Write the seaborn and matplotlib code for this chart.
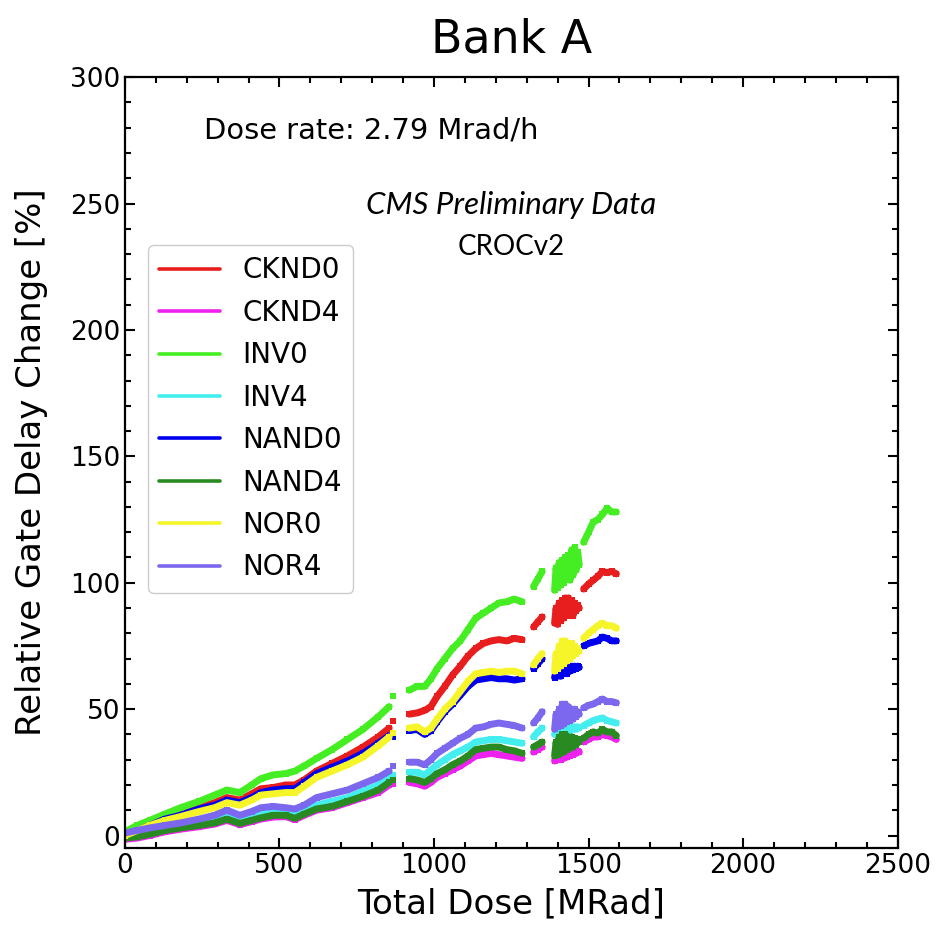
import numpy as np
import pandas as pd
import matplotlib
matplotlib.use("Agg")
import matplotlib.pyplot as plt
from matplotlib.lines import Line2D
from matplotlib.ticker import MultipleLocator
import seaborn as sns

# ---------------- data ----------------
DOSE = [0, 40, 80, 130, 180, 240, 290, 330, 372, 410, 440, 480, 520, 550, 580, 620, 670, 720, 770, 820, 855,
        868,
        920, 945, 970, 990, 1010, 1035, 1060, 1085, 1110, 1135, 1160, 1185, 1210, 1235, 1260, 1285,
        1322, 1336, 1350,
        1390, 1395, 1400, 1405, 1410, 1415, 1420, 1425, 1430, 1435, 1440, 1445, 1450, 1455, 1460, 1465, 1470,
        1484, 1500, 1515, 1530, 1545, 1560, 1575, 1590]
SEGMENT_LENGTHS = [21, 1, 16, 3, 17, 8]

CKND0 = [0.5, 2.5, 4.5, 7, 9, 11, 13, 15, 14, 16.5, 18.5, 19, 20, 20, 22, 25.5, 28.5, 31.5, 35, 39, 42.5,
         45.5,
         48, 48.5, 49.5, 51, 55, 59, 63.5, 67, 71, 74, 76, 77, 77.5, 77, 78, 77.5,
         82.5, 84.5, 86.5,
         84, 90, 83.5, 92, 85, 93, 86, 94, 87, 94, 88, 93, 87, 92, 89, 91, 90,
         97.5, 99.5, 101, 102.5, 104.5, 104, 104.5, 103.5]
CKND4 = [-1.5, -1, 0, 1.5, 2.5, 3.5, 4.5, 6, 4.3, 5.5, 6.5, 7.3, 7.5, 6.3, 8, 10, 11, 13, 15, 17, 20,
         20.5,
         21, 20.5, 19.5, 21, 23, 24.5, 26, 27.5, 29.5, 31.5, 32, 32.5, 32, 31.5, 31, 30.5,
         33, 34, 35,
         29.5, 32, 30, 33, 30, 33.5, 30.5, 34, 31, 34, 31.5, 34, 32, 34, 32.5, 33.5, 33,
         37, 38, 39, 39, 40, 39.5, 39, 38]
INV0 = [1.5, 4, 6, 8.5, 11, 13.5, 16, 18, 17, 20, 22.5, 24, 24.5, 25.5, 27.5, 30.5, 34, 38, 42, 47, 51,
        55,
        57.5, 59, 59, 62, 66, 70, 74, 77, 81.5, 86, 88, 90, 92, 92.5, 93.5, 92.5,
        98.5, 101.5, 104.5,
        97, 106, 98, 108, 99, 109, 100, 110, 102, 111, 101, 113, 103, 114, 105, 112, 107,
        116, 120, 124, 125, 127, 129.5, 128, 128]
INV4 = [0, 0.5, 1.5, 3, 4.5, 5.5, 6.5, 8, 6, 7.5, 8.5, 9.5, 9.5, 8.3, 10, 12, 13.5, 15, 17.5, 20, 23,
        24,
        25, 25, 24, 26, 28, 30, 32, 33.5, 35, 37, 37.5, 38, 38, 37.5, 37, 36.5,
        39, 41, 42.5,
        40, 42, 40, 42.5, 40.5, 43, 41, 43, 41, 43, 41.5, 43, 42, 43, 42, 43, 42.5,
        43.5, 44.5, 45.5, 46, 46.5, 45.5, 45, 44.5]
NAND0 = [-0.5, 2, 4, 6.5, 8, 10.5, 12, 14, 13, 15, 17, 18, 18.5, 18.5, 21, 24.5, 27, 29.5, 32.5, 36.5, 39.5,
         39,
         41.5, 42, 40, 41.5, 45, 49, 52, 55.5, 59, 61.5, 62, 62.5, 62, 62, 61.5, 62,
         66, 68, 70,
         62.5, 65, 63, 66, 63, 66.5, 64, 67, 64, 67, 65, 67, 65.5, 67, 66, 67, 66.5,
         75, 76, 76.5, 77, 78.5, 78, 77, 77]
NAND4 = [-1, -0.5, 0.5, 2, 3, 4, 5, 6.5, 4.8, 6, 7, 8, 8, 6.8, 8.5, 10.5, 11.5, 13.5, 15.5, 18, 21,
         22,
         22.5, 22, 21, 22.5, 24.5, 26, 28, 29.5, 31.5, 34, 34.5, 35, 35, 34, 33.5, 32.5,
         35, 36, 37,
         31.5, 37, 32, 39, 32.5, 40, 33, 40, 34, 39, 34.5, 39, 35, 38.5, 36, 38, 37,
         38.5, 40, 41, 40.5, 42, 41, 41, 39.5]
NOR0 = [0, 2, 4, 6, 7.5, 9.5, 11, 13, 12, 14, 16, 16.5, 17, 17, 19.5, 23, 25.5, 28, 31, 35.5, 39,
        40.5,
        42.5, 43, 41, 42.5, 46, 50, 53, 57, 61, 64, 64.5, 65, 64.5, 65, 65, 64,
        67.5, 70, 72,
        65, 72, 66, 75, 67, 77, 68, 77, 69, 76, 70, 76, 71, 75, 72, 74, 73,
        78, 80, 81.5, 83, 84, 83, 83, 82]
NOR4 = [1, 2, 3, 4, 5, 6.5, 8, 10, 8, 9.5, 11, 11.5, 11, 10.5, 12, 15, 16.5, 18, 20.5, 23, 25.5,
        27.5,
        29, 29, 28, 30, 32.5, 34.5, 36.5, 38.5, 40, 42.5, 43, 44, 44.5, 44, 43.5, 42.5,
        44.5, 46.5, 49,
        42, 48, 43, 50, 43.5, 52, 44, 52, 45, 51, 45.5, 50, 46, 50, 47, 49, 48,
        50.5, 51.5, 52, 53, 54, 53, 53, 52.5]

SERIES_NAMES = ["CKND0", "CKND4", "INV0", "INV4", "NAND0", "NAND4", "NOR0", "NOR4"]
SERIES_VALUES = [CKND0, CKND4, INV0, INV4, NAND0, NAND4, NOR0, NOR4]
COLORS = ["#e81e1e", "#ee22ee", "#44ee22", "#44eeee", "#0000ee", "#2a8a22", "#f5f52a", "#7b68ee"]

X_TICKS = [0, 500, 1000, 1500, 2000, 2500]
Y_TICKS = [0, 50, 100, 150, 200, 250, 300]

# ---------------- build table ----------------
seg_ids = []
for i, n in enumerate(SEGMENT_LENGTHS):
    seg_ids += [i] * n
frames = []
for name, vals in zip(SERIES_NAMES, SERIES_VALUES):
    frames.append(pd.DataFrame({"dose": DOSE, "delay": vals, "segment": seg_ids, "gate": name}))
df = pd.concat(frames, ignore_index=True)

# ---------------- plot ----------------
sns.set_style("ticks")
plt.rcParams["font.family"] = ["DejaVu Sans"]
plt.rcParams["text.color"] = "black"
plt.rcParams["axes.labelcolor"] = "black"
plt.rcParams["xtick.color"] = "black"
plt.rcParams["ytick.color"] = "black"

fig = plt.figure(figsize=(9.39, 9.30), dpi=100)
ax = fig.add_axes([0.133, 0.088, 0.823, 0.829])

for name, color in zip(SERIES_NAMES, COLORS):
    sub = df[df["gate"] == name]
    sns.lineplot(data=sub, x="dose", y="delay", units="segment", estimator=None,
                 color=color, lw=5, marker="s", markersize=5, markeredgewidth=0,
                 ax=ax, legend=False)

ax.set_xlim(0, 2500)
ax.set_ylim(-5, 300)
ax.set_xticks(X_TICKS)
ax.set_yticks(Y_TICKS)
ax.xaxis.set_minor_locator(MultipleLocator(100))
ax.yaxis.set_minor_locator(MultipleLocator(10))
ax.tick_params(which="both", direction="in", top=True, right=True, width=1.5, colors="black")
ax.tick_params(which="major", length=7, labelsize=19)
ax.tick_params(which="minor", length=4)
for sp in ax.spines.values():
    sp.set_linewidth(1.6)
    sp.set_color("black")

ax.set_xlabel("Total Dose [MRad]", fontsize=24.5, labelpad=6, color="black")
ax.set_ylabel("Relative Gate Delay Change [%]", fontsize=24.5, labelpad=16, color="black")
ax.set_title("Bank A", fontsize=33, pad=18, color="black")

ax.text(0.102, 0.931, "Dose rate: 2.79 Mrad/h", transform=ax.transAxes,
        fontsize=20.8, ha="left", va="center", color="black")
ax.text(0.5, 0.834, "CMS Preliminary Data", transform=ax.transAxes, color="black",
        fontsize=22.5, ha="center", va="center", style="italic", family=["Lato", "DejaVu Sans"])
ax.text(0.5, 0.780, "CROCv2", transform=ax.transAxes, color="black",
        fontsize=20, ha="center", va="center", family=["Lato", "DejaVu Sans"])

handles = [Line2D([0], [0], color=c, lw=2.6) for c in COLORS]
leg = ax.legend(handles, SERIES_NAMES, loc="upper left", bbox_to_anchor=(0.030, 0.782),
                borderaxespad=0, fontsize=20, labelspacing=0.52, handlelength=2.2,
                frameon=True, fancybox=True, edgecolor="#cccccc", framealpha=1)
for t in leg.get_texts():
    t.set_color("black")

fig.savefig("out.png", dpi=100)
